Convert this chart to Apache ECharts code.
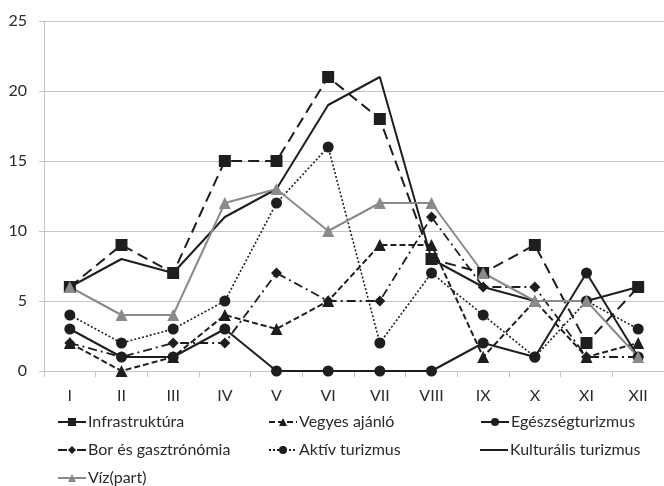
<!DOCTYPE html>
<html>
<head>
<meta charset="utf-8">
<script src="https://cdn.jsdelivr.net/npm/echarts@6/dist/echarts.min.js"></script>
<style>
  html, body { margin: 0; padding: 0; background: #fff; }
  #chart { width: 664px; height: 486px; }
</style>
</head>
<body>
<div id="chart"></div>
<script>
const months = ['I', 'II', 'III', 'IV', 'V', 'VI', 'VII', 'VIII', 'IX', 'X', 'XI', 'XII']

const infrastruktura = [6, 9, 7, 15, 15, 21, 18, 8, 7, 9, 2, 6]
const vegyes = [2, 0, 1, 4, 3, 5, 9, 9, 1, 5, 1, 2]
const egeszseg = [3, 1, 1, 3, 0, 0, 0, 0, 2, 1, 7, 1]
const bor = [2, 1, 2, 2, 7, 5, 5, 11, 6, 6, 1, 1]
const aktiv = [4, 2, 3, 5, 12, 16, 2, 7, 4, 1, 5, 3]
const kulturalis = [6, 8, 7, 11, 13, 19, 21, 8, 6, 5, 5, 6]
const viz = [6, 4, 4, 12, 13, 10, 12, 12, 7, 5, 5, 1]

const FONT = "Lato, 'Open Sans', sans-serif"
const BLACK = '#1e1e1e'
const GREY = '#8a8a8a'
const AXIS = '#c6c6c6'

function line(name, data, color, symbol, size, dash, width) {
  return {
    name: name,
    type: 'line',
    data: data,
    symbol: symbol,
    symbolSize: size,
    showAllSymbol: true,
    animation: false,
    itemStyle: { color: color, borderWidth: 0 },
    lineStyle: { color: color, width: width, type: dash }
  }
}

const series = [
  line('Infrastruktúra', infrastruktura, BLACK, 'rect', 12, [11, 6], 2),
  line('Vegyes ajánló', vegyes, BLACK, 'triangle', 12, [6, 3], 2),
  line('Egészségturizmus', egeszseg, BLACK, 'circle', 11, 'solid', 2),
  line('Bor és gasztrónómia', bor, BLACK, 'diamond', 11, [9, 4, 2, 4], 1.8),
  line('Aktív turizmus', aktiv, BLACK, 'circle', 11, [2, 2], 1.6),
  line('Kulturális turizmus', kulturalis, BLACK, 'none', 0, 'solid', 2),
  line('Víz(part)', viz, GREY, 'triangle', 12, 'solid', 2)
]

// legend laid out as a 3-column grid
const legendPos = [
  [57, 414], [268, 414], [480, 414],
  [57, 442], [268, 442], [480, 442],
  [57, 470]
]
const legends = series.map((s, i) => {
  const plain = s.symbol === 'none'
  return {
    data: plain ? [{ name: s.name, icon: 'rect' }] : [s.name],
    left: legendPos[i][0],
    top: legendPos[i][1],
    padding: 0,
    itemWidth: 28,
    itemHeight: plain ? 2 : 10,
    itemGap: 0,
    textStyle: { fontFamily: FONT, fontSize: 16, color: '#2a2a2a', padding: [0, 0, 0, -3] },
    selectedMode: false
  }
})

const chart = echarts.init(document.getElementById('chart'))
chart.setOption({
  animation: false,
  textStyle: { fontFamily: FONT },
  grid: { left: 44, right: -10, top: 21, bottom: 115 },
  legend: legends,
  xAxis: {
    type: 'category',
    data: months,
    boundaryGap: true,
    axisLine: { lineStyle: { color: AXIS, width: 1 } },
    axisTick: { show: true, length: 6, interval: 0, lineStyle: { color: AXIS } },
    axisLabel: { fontFamily: FONT, fontSize: 16, color: '#2a2a2a', margin: 17, interval: 0 }
  },
  yAxis: {
    type: 'value',
    min: 0,
    max: 25,
    interval: 5,
    axisLine: { show: true, lineStyle: { color: AXIS, width: 1 } },
    axisTick: { show: true, length: 5, lineStyle: { color: AXIS } },
    splitLine: { lineStyle: { color: AXIS, width: 1 } },
    axisLabel: { fontFamily: FONT, fontSize: 16, color: '#2a2a2a', margin: 17 }
  },
  series: series
})
</script>
</body>
</html>
